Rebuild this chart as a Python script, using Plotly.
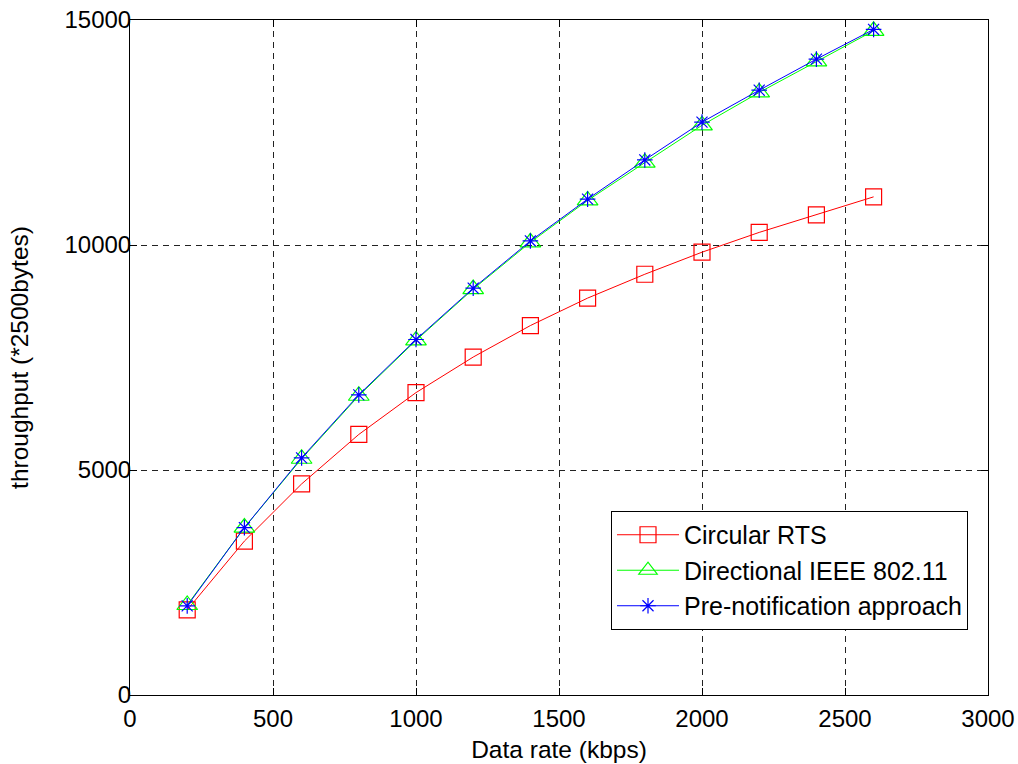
import plotly.graph_objects as go

# Offered data rate (kbps)
data_rate = [200, 400, 600, 800, 1000, 1200, 1400, 1600, 1800, 2000, 2200, 2400, 2600]

# Throughput (units of 2500 bytes) per scheme
circular_rts = [1890, 3420, 4690, 5790, 6720, 7510, 8210, 8820, 9350, 9840, 10280, 10670, 11070]
directional_80211 = [2000, 3720, 5250, 6650, 7880, 9020, 10060, 10990, 11830, 12660, 13390, 14080, 14760]
pre_notification = [1980, 3720, 5270, 6670, 7900, 9040, 10090, 11020, 11890, 12730, 13440, 14130, 14790]

x_ticks = [0, 500, 1000, 1500, 2000, 2500, 3000]
y_ticks = [0, 5000, 10000, 15000]

FONT = "Liberation Sans, Arial, sans-serif"

fig = go.Figure()

fig.add_trace(go.Scatter(
    x=data_rate, y=circular_rts, name="Circular RTS", mode="lines+markers",
    line=dict(color="#ff0000", width=1),
    marker=dict(symbol="square-open", size=16, color="#ff0000", line=dict(width=1.2, color="#ff0000")),
))
fig.add_trace(go.Scatter(
    x=data_rate, y=directional_80211, name="Directional IEEE 802.11", mode="lines+markers",
    line=dict(color="#00ff00", width=1),
    marker=dict(symbol="triangle-up-open", size=18, color="#00ff00", line=dict(width=1.2, color="#00ff00")),
))
fig.add_trace(go.Scatter(
    x=data_rate, y=pre_notification, name="Pre-notification approach", mode="lines+markers",
    line=dict(color="#0000ff", width=1),
    marker=dict(symbol="asterisk-open", size=13, color="#0000ff", line=dict(width=1.2, color="#0000ff")),
))

axis_common = dict(
    showline=True, linecolor="black", linewidth=1, mirror="ticks",
    ticks="inside", ticklen=7, tickcolor="black", tickwidth=1,
    showgrid=True, gridcolor="#222222", gridwidth=1, griddash="6px,5px",
    zeroline=False, automargin=False,
    tickfont=dict(family=FONT, size=24, color="black"),
)

fig.update_xaxes(
    range=[0, 3000], tickvals=x_ticks, ticktext=[str(v) for v in x_ticks],
    ticklabelstandoff=2,
    title=dict(text="Data rate (kbps)", font=dict(family=FONT, size=24.5, color="black"), standoff=10),
    **axis_common,
)
fig.update_yaxes(
    range=[0, 15000], tickvals=y_ticks, ticktext=[str(v) for v in y_ticks],
    ticklabelstandoff=-7,
    title=dict(text="throughput (*2500bytes)", font=dict(family=FONT, size=24.5, color="black"), standoff=28),
    **axis_common,
)

fig.update_layout(
    width=1018, height=764,
    margin=dict(l=130, r=30, t=20, b=69),
    paper_bgcolor="white", plot_bgcolor="white",
    font=dict(family=FONT, size=24, color="black"),
    showlegend=True,
    legend=dict(
        x=0.9767, xanchor="right", y=0.2726, yanchor="top",
        bgcolor="white", bordercolor="black", borderwidth=1,
        font=dict(family=FONT, size=25, color="black"),
        tracegroupgap=0, itemwidth=62,
    ),
)

fig.write_html("out.html")
